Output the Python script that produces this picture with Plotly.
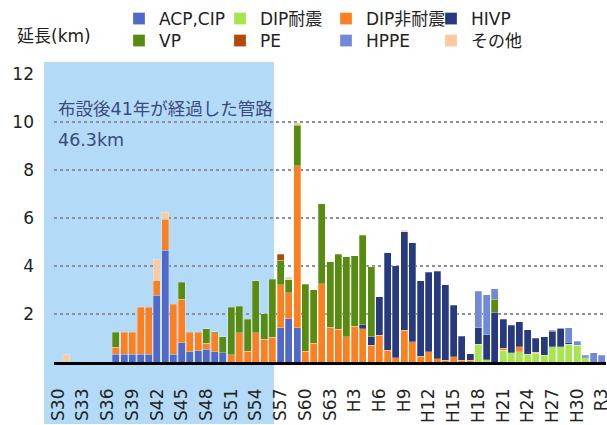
import plotly.graph_objects as go

# Categories: S30..S63, H1..H30, R1..R3
categories = ([f"S{n}" for n in range(30, 64)] +
              [f"H{n}" for n in range(1, 31)] +
              ["R1", "R2", "R3"])
tick_labels = categories[::3]

acp_cip = [0, 0, 0, 0, 0, 0, 0, 0.33, 0.33, 0.33,
           0.33, 0.33, 2.78, 4.65, 0.33, 0.81, 0.42, 0.47, 0.53, 0.42,
           0.38, 0, 0, 0, 0, 0, 0, 1.42, 1.81, 1.42,
           0, 0, 0, 0, 0, 0, 0, 0, 0, 0,
           0, 0, 0, 0, 0, 0, 0, 0, 0, 0,
           0, 0, 0, 0, 0, 0, 0, 0, 0, 0,
           0, 0, 0, 0, 0, 0, 0]
dip_seismic = [0, 0, 0, 0, 0, 0, 0, 0, 0, 0,
               0, 0, 0, 0, 0, 0, 0, 0, 0, 0,
               0, 0, 0, 0, 0, 0, 0, 0, 0, 0,
               0, 0, 0, 0, 0, 0, 0, 0, 0, 0,
               0, 0, 0, 0, 0, 0, 0, 0, 0, 0,
               0, 0.74, 0.10, 0, 0.49, 0.38, 0.42, 0.33, 0.36, 0.28,
               0.63, 0.63, 0.74, 0.69, 0.17, 0, 0]
dip_nonseismic = [0, 0, 0, 0, 0, 0, 0, 0.28, 0.92, 0.92,
                  1.95, 1.95, 0.61, 1.30, 2.07, 1.80, 0.83, 0.78, 0.26, 0.79,
                  0, 0.31, 1.22, 0.44, 1.21, 0.95, 1.04, 1.80, 1.07, 6.75,
                  0.45, 0.78, 3.27, 1.45, 1.36, 1.06, 1.50, 1.39, 0.69, 1.11,
                  0.49, 0.18, 1.33, 0.85, 0.25, 0.43, 0.14, 0.07, 0.21, 0.07,
                  0.07, 0, 0, 0, 0.09, 0, 0.21, 0, 0.04, 0,
                  0, 0, 0, 0, 0, 0, 0]
hivp = [0, 0, 0, 0, 0, 0, 0, 0, 0, 0,
        0, 0, 0, 0, 0, 0, 0, 0, 0, 0,
        0, 0, 0, 0, 0, 0, 0, 0, 0, 0,
        0, 0, 0, 0, 0, 0, 0, 0.17, 0.37, 1.60,
        4.07, 3.84, 4.09, 4.11, 3.13, 3.32, 3.65, 3.15, 2.15, 1.00,
        0.28, 0.68, 1.03, 2.07, 1.20, 1.16, 1.04, 1.02, 0.60, 0.78,
        0.66, 0.76, 0.08, 0, 0, 0, 0]
vp = [0, 0, 0, 0, 0, 0, 0, 0.64, 0, 0,
      0, 0, 0, 0, 0, 0.71, 0, 0, 0.59, 0.06,
      0.68, 1.97, 1.10, 1.34, 2.18, 1.07, 2.41, 1.02, 0.55, 1.69,
      2.80, 2.24, 3.33, 2.72, 3.14, 3.33, 2.93, 3.73, 2.90, 0,
      0, 0, 0, 0, 0, 0, 0, 0, 0, 0,
      0, 0, 0, 0.54, 0, 0, 0, 0, 0, 0,
      0, 0, 0, 0, 0, 0, 0]
pe = [0, 0, 0, 0, 0, 0, 0, 0, 0, 0,
      0, 0, 0, 0, 0, 0, 0, 0, 0, 0,
      0, 0, 0, 0, 0, 0, 0, 0.25, 0, 0,
      0, 0, 0, 0, 0, 0, 0, 0, 0, 0,
      0, 0, 0, 0, 0, 0, 0, 0, 0, 0,
      0, 0, 0, 0, 0, 0, 0, 0, 0, 0,
      0, 0, 0, 0, 0, 0, 0]
hppe = [0, 0, 0, 0, 0, 0, 0, 0, 0, 0,
        0, 0, 0, 0, 0, 0, 0, 0, 0, 0,
        0, 0, 0, 0, 0, 0, 0, 0, 0, 0,
        0, 0, 0, 0, 0, 0, 0, 0, 0, 0,
        0, 0, 0, 0, 0, 0, 0, 0, 0, 0,
        0, 1.53, 1.68, 0.45, 0, 0, 0, 0, 0, 0,
        0.04, 0.03, 0.61, 0.17, 0.11, 0.38, 0.28]
other = [0, 0.30, 0, 0, 0, 0, 0, 0, 0, 0,
         0, 0, 0.88, 0.30, 0, 0, 0, 0, 0, 0,
         0, 0, 0, 0, 0, 0, 0, 0, 0.11, 0.11,
         0, 0, 0, 0, 0, 0, 0, 0, 0, 0,
         0, 0, 0.07, 0, 0, 0, 0, 0, 0, 0,
         0, 0, 0, 0, 0, 0, 0, 0, 0, 0,
         0, 0, 0, 0, 0, 0, 0]

# (name, values, colour)
series = [
    ("ACP,CIP", acp_cip, "#5068c8"),
    ("DIP耐震", dip_seismic, "#a8e64f"),
    ("DIP非耐震", dip_nonseismic, "#fb8022"),
    ("HIVP", hivp, "#27397f"),
    ("VP", vp, "#588c10"),
    ("PE", pe, "#b04b05"),
    ("HPPE", hppe, "#7189d9"),
    ("その他", other, "#fdc9a1"),
]

FONT = "DejaVu Sans, Noto Sans CJK JP, sans-serif"
W, H = 607, 425
L, T, PW, PH = 54, 74, 552, 288   # plot area in pixels
LEG_X = [119, 220, 326, 431]      # legend columns (px)
LEG_Y = [1, 23]                   # legend rows (px, top)

fig = go.Figure()
legends = {}
for i, (name, vals, color) in enumerate(series):
    key = "legend" if i == 0 else f"legend{i + 1}"
    fig.add_trace(go.Bar(
        x=categories,
        y=[v if v else None for v in vals],
        name=name,
        legend=key,
        marker=dict(color=color, line=dict(color="rgba(255,255,255,0.45)", width=0.6)),
    ))
    legends[key] = dict(
        orientation="v",
        xref="container", yref="container",
        x=LEG_X[i % 4] / W, y=1 - LEG_Y[i // 4] / H,
        xanchor="left", yanchor="top",
        font=dict(family=FONT, size=17, color="#222222"),
        itemwidth=30,
        bgcolor="rgba(0,0,0,0)",
    )


def px_x(px):
    return (px - L) / PW


def px_y(py):
    return (T + PH - py) / PH


fig.update_layout(
    width=W, height=H,
    margin=dict(l=L, r=W - L - PW, t=T, b=H - T - PH, autoexpand=False),
    barmode="stack",
    bargap=0.15,
    paper_bgcolor="white",
    plot_bgcolor="white",
    font=dict(family=FONT, size=17, color="#222222"),
    showlegend=True,
    shapes=[dict(
        type="rect", xref="paper", yref="paper",
        x0=px_x(44), x1=px_x(274), y0=px_y(424), y1=px_y(62),
        fillcolor="#b3dbf8", line=dict(width=0), layer="below",
    )],
    annotations=[
        dict(text="延長(km)", xref="paper", yref="paper",
             x=px_x(15), y=px_y(36),
             xanchor="left", yanchor="middle", showarrow=False,
             font=dict(family=FONT, size=17, color="#222222")),
        dict(text="布設後41年が経過した管路", xref="paper", yref="paper",
             x=px_x(56), y=px_y(109), xanchor="left", yanchor="middle",
             showarrow=False, font=dict(family=FONT, size=17.5, color="#3b4a7a")),
        dict(text="46.3km", xref="paper", yref="paper",
             x=px_x(56), y=px_y(140), xanchor="left", yanchor="middle",
             showarrow=False, font=dict(family=FONT, size=17.5, color="#3b4a7a")),
    ],
    **legends,
)

fig.update_xaxes(
    type="category",
    categoryorder="array", categoryarray=categories,
    tickmode="array", tickvals=tick_labels, ticktext=tick_labels,
    tickangle=-90,
    showline=True, linecolor="black", linewidth=2.5,
    showgrid=False, ticks="", ticklabelstandoff=17,
    automargin=False,
    tickfont=dict(family=FONT, size=17, color="#222222"),
)
fig.update_yaxes(
    range=[0, 12], tickvals=[2, 4, 6, 8, 10, 12],
    showgrid=True, gridcolor="#8c8f99", gridwidth=1.5, griddash="dot",
    zeroline=False, showline=False, ticks="", ticklabelstandoff=19,
    automargin=False,
    tickfont=dict(family=FONT, size=17, color="#222222"),
)

fig.write_html("out.html", config={"displayModeBar": False},
               post_script="document.body.style.margin='0';")
